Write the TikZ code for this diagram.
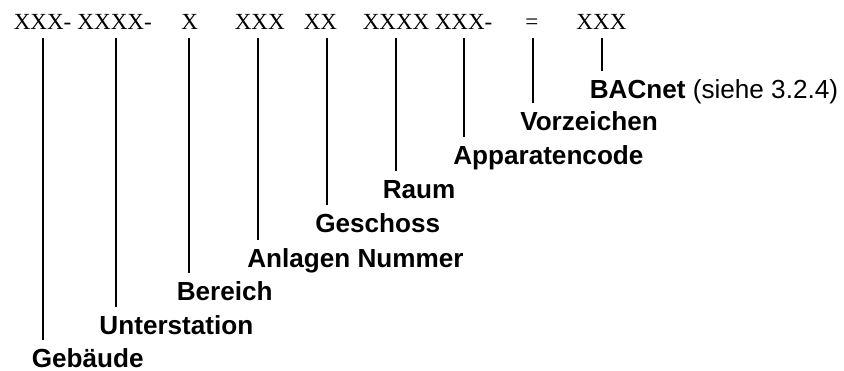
\documentclass[tikz,border=0pt]{standalone}
\usepackage{fontspec}
\newfontfamily\codefont{Liberation Serif}
\newfontfamily\lblfont{Liberation Sans}
\begin{document}
\begin{tikzpicture}[x=0.75pt,y=-0.75pt,
  code/.style={font=\codefont\fontsize{17.3}{20}\selectfont, inner sep=0pt, anchor=base west},
  lbl/.style={font=\lblfont\fontsize{19.6}{23}\selectfont\bfseries, inner sep=0pt, anchor=base west, text height=14pt, text depth=0pt},
  tickline/.style={line width=1.5pt, shorten >=6pt}]
\useasboundingbox (0,0) rectangle (844,371);
% code segments
\node[code] (s1) at (13.5,30) {XXX-};
\node[code] (s2) at (77.2,30) {XXXX-};
\node[code] (s3) at (181.2,30) {X};
\node[code] (s4) at (234.5,30) {XXX};
\node[code] (s5) at (303.5,30) {XX};
\node[code] (s6) at (362.5,30) {XXXX};
\node[code] (s7) at (434.5,30) {XXX-};
\node[code] (s8) at (525,30) {=};
\node[code] (s9) at (576.2,30) {XXX};
% tick tops
\coordinate (t1) at (42.7,38);
\coordinate (t2) at (116,38);
\coordinate (t3) at (189,38);
\coordinate (t4) at (257.7,38);
\coordinate (t5) at (326.7,38);
\coordinate (t6) at (395.7,38);
\coordinate (t7) at (463.7,38);
\coordinate (t8) at (532.7,38);
\coordinate (t9) at (602,38);
% labels
\node[lbl] (l1) at (31.5,367) {Gebäude};
\node[lbl] (l2) at (99.2,334) {Unterstation};
\node[lbl] (l3) at (176.5,300) {Bereich};
\node[lbl] (l4) at (247,267) {Anlagen Nummer};
\node[lbl] (l5) at (315,232) {Geschoss};
\node[lbl] (l6) at (382.5,198) {Raum};
\node[lbl] (l7) at (453,164) {Apparatencode};
\node[lbl] (l8) at (520,130) {Vorzeichen};
\node[lbl] (l9) at (589.5,98) {BACnet\mdseries\ (siehe 3.2.4)};
% ticks
\foreach \i in {1,...,9}{
  \draw[tickline] (t\i) -- (t\i |- l\i.north);
}
\end{tikzpicture}
\end{document}
